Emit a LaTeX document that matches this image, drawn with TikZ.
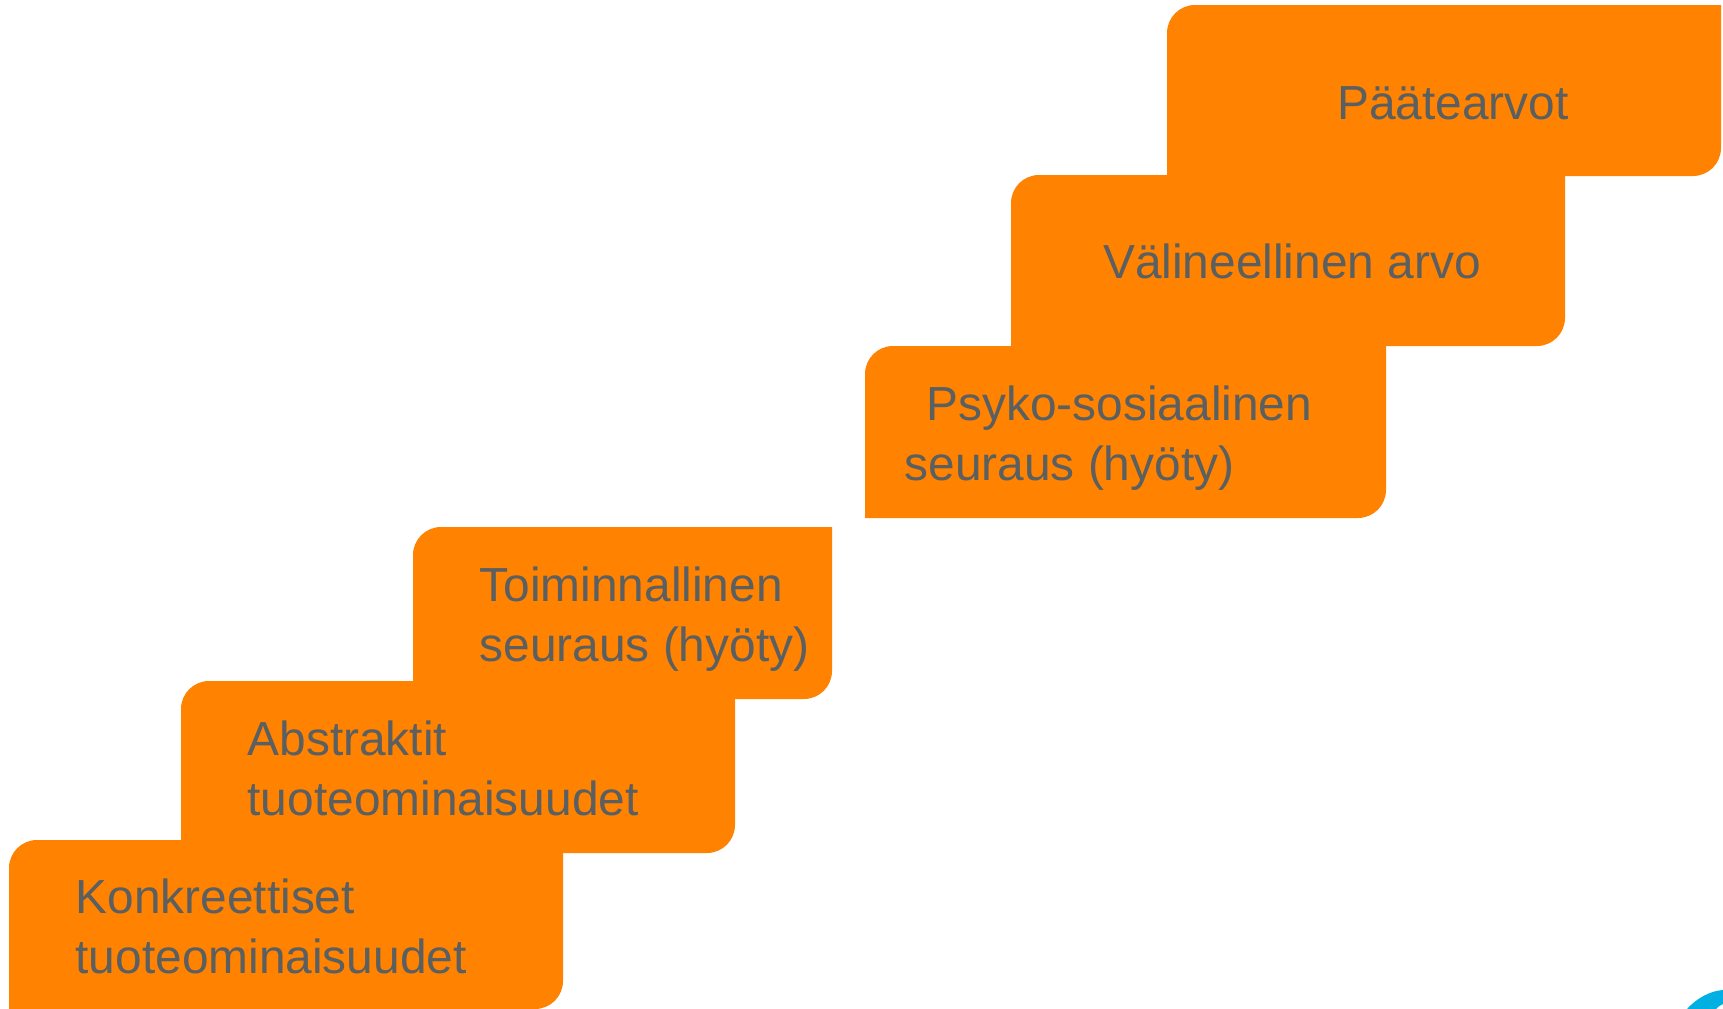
\documentclass[tikz,border=0pt]{standalone}
\usepackage{fontspec}
\setmainfont{Liberation Sans}
\usetikzlibrary{positioning}
\definecolor{orangebox}{RGB}{255,130,0}
\definecolor{graytext}{RGB}{90,95,97}
\definecolor{bluelogo}{RGB}{0,176,226}

\begin{document}
\begin{tikzpicture}
        [x=0.01cm,y=-0.01cm,
        stepbox/.style={fill=orangebox},
        steptext/.style={anchor=base west,inner sep=0pt,align=left,text=graytext,font=\fontsize{13.6}{16.8}\selectfont}]
        \useasboundingbox (0,0) rectangle (1723,1009);
        %gradini
            \fill[stepbox] (9,920) [rounded corners=2.8mm]--(9,840) [sharp corners]--(563,840) [rounded corners=2.8mm]--(563,1009) [sharp corners]--(9,1009)--cycle;
            \fill[stepbox] (181,760) [rounded corners=2.8mm]--(181,681) [sharp corners]--(735,681) [rounded corners=2.8mm]--(735,853) [sharp corners]--(181,853)--cycle;
            \fill[stepbox] (413,610) [rounded corners=2.8mm]--(413,527) [sharp corners]--(832,527) [rounded corners=2.8mm]--(832,699) [sharp corners]--(413,699)--cycle;
            \fill[stepbox] (865,430) [rounded corners=2.8mm]--(865,346) [sharp corners]--(1386,346) [rounded corners=2.8mm]--(1386,518) [sharp corners]--(865,518)--cycle;
            \fill[stepbox] (1011,260) [rounded corners=2.8mm]--(1011,175) [sharp corners]--(1565,175) [rounded corners=2.8mm]--(1565,346) [sharp corners]--(1011,346)--cycle;
            \fill[stepbox] (1167,90) [rounded corners=2.8mm]--(1167,5) [sharp corners]--(1721,5) [rounded corners=2.8mm]--(1721,176) [sharp corners]--(1167,176)--cycle;
        %testi
            \node[steptext] (konkreettiset) at (75,973) {Konkreettiset\\tuoteominaisuudet};
            \node[steptext] (abstraktit) at (247,815) {Abstraktit\\tuoteominaisuudet};
            \node[steptext] (toiminnallinen) at (479,661) {Toiminnallinen\\seuraus (hyöty)};
            \node[steptext] (psyko) at (904,480) {\hspace*{0.22cm}Psyko-sosiaalinen\\seuraus (hyöty)};
            \node[steptext,anchor=base] (valineellinen) at (1292,278) {Välineellinen arvo};
            \node[steptext,anchor=base] (paatearvot) at (1453,119) {Päätearvot};
        %logo
            \fill[bluelogo] (1687,1009)..controls (1697,998) and (1710,991).. (1723,990)--(1723,1004)..controls (1720,1005) and (1718,1007).. (1716,1009)--cycle;
\end{tikzpicture}
\end{document}
